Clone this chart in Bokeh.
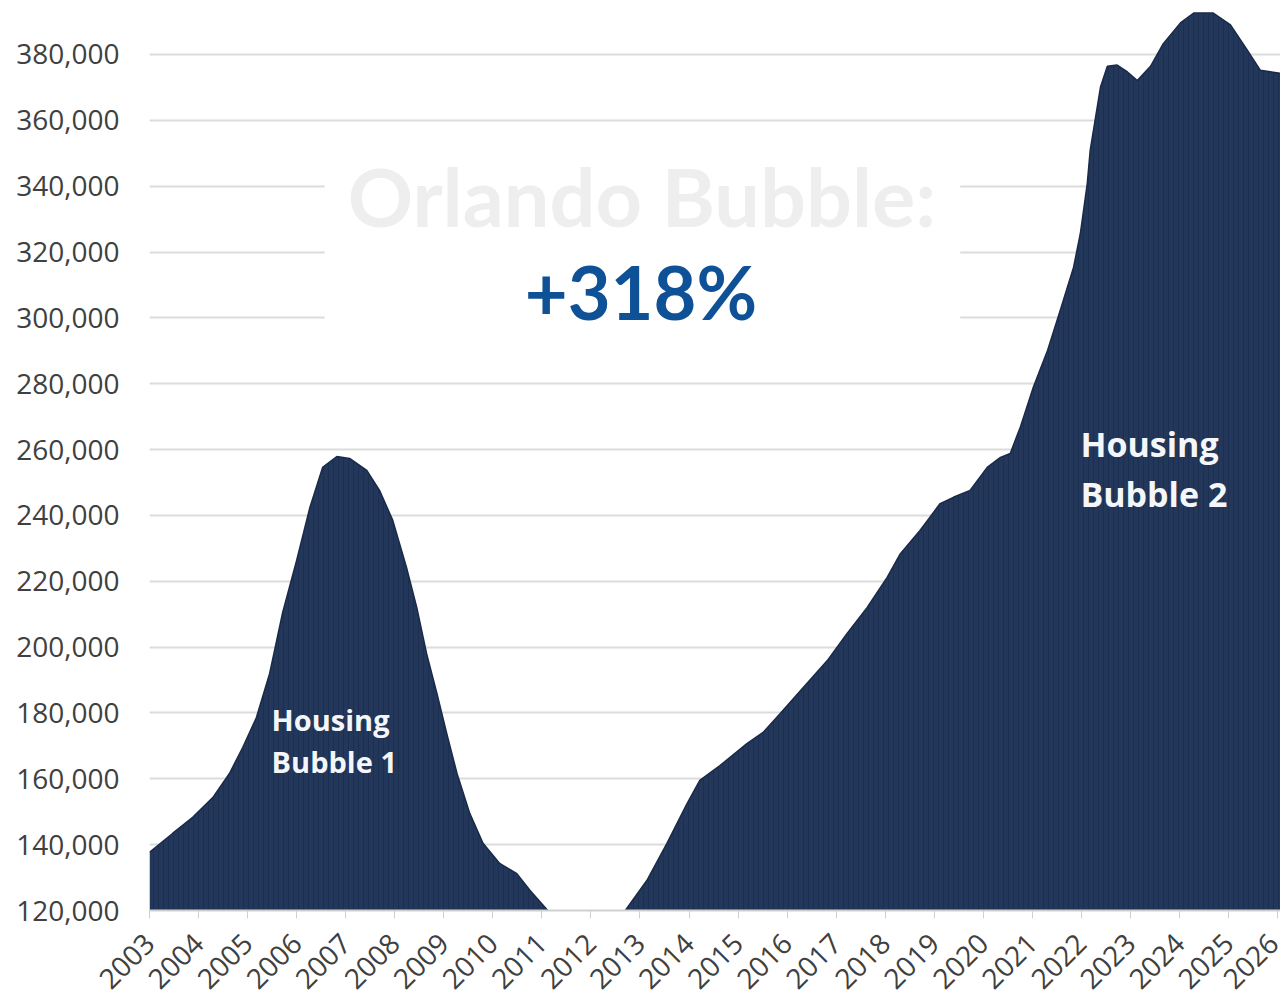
import math
from bokeh.plotting import figure
from bokeh.models import (Range1d, FixedTicker, NumeralTickFormatter, Label,
                          BoxAnnotation, BasicTickFormatter)
from bokeh.embed import file_html
from bokeh.resources import INLINE

# ---- data ----
years = [2003.00, 2003.47, 2003.88, 2004.29, 2004.63, 2004.90, 2005.18, 2005.45,
         2005.71, 2006.00, 2006.27, 2006.53, 2006.82, 2007.08, 2007.43, 2007.69,
         2007.96, 2008.24, 2008.45, 2008.65, 2008.86, 2009.06, 2009.27, 2009.53,
         2009.80, 2010.14, 2010.49, 2010.76, 2011.12, 2011.50, 2012.00, 2012.40,
         2012.73, 2013.14, 2013.55, 2013.96, 2014.22, 2014.63, 2015.18, 2015.51,
         2015.86, 2016.33, 2016.82, 2017.22, 2017.63, 2018.04, 2018.31, 2018.71,
         2019.12, 2019.39, 2019.73, 2020.08, 2020.35, 2020.55, 2020.76, 2021.02,
         2021.31, 2021.57, 2021.84, 2021.98, 2022.12, 2022.18, 2022.29, 2022.39,
         2022.53, 2022.73, 2022.94, 2023.14, 2023.41, 2023.67, 2024.02, 2024.29,
         2024.69, 2025.04, 2025.39, 2025.65, 2026.08]
prices = [137700, 143400, 148300, 154300, 161600, 169500, 178600, 192000,
          210200, 226300, 242400, 254600, 257900, 257300, 253700, 247600,
          238500, 224200, 212000, 198000, 185900, 173800, 161600, 149500,
          140400, 134300, 131200, 126100, 120000, 114000, 111000, 114000,
          120600, 129100, 140400, 152500, 159500, 164000, 170700, 174100,
          179800, 187700, 195900, 204100, 212000, 221200, 228400, 235400,
          243600, 245500, 247600, 254600, 257600, 258800, 267000, 278900,
          290100, 302300, 315300, 325700, 340800, 350900, 361000, 370100,
          376400, 376800, 374700, 372100, 376400, 383300, 389600, 392600,
          392600, 389000, 381200, 375200, 374200]

tick_years = list(range(2003, 2027))
y_ticks = list(range(120000, 380001, 20000))

title_line1 = "Orlando Bubble:"
title_line2 = "+318%"
bubble1 = ["Housing", "Bubble 1"]
bubble2 = ["Housing", "Bubble 2"]

# ---- figure ----
p = figure(width=1280, height=1000, output_backend="svg", toolbar_location=None,
           x_range=Range1d(2003.0, 2026.06), y_range=Range1d(120000, 396400),
           min_border_left=149, min_border_right=0, min_border_top=0,
           min_border_bottom=90)
p.outline_line_color = None
p.background_fill_color = "white"
p.border_fill_color = "white"

# area (with a faint vertical texture like monthly columns)
p.varea(x=years, y1=0, y2=prices, fill_color="#223759",
        hatch_pattern="vertical_line", hatch_color="#18284a",
        hatch_alpha=0.55, hatch_scale=5, hatch_weight=1)
p.line(x=years, y=prices, line_color="#1a2a48", line_width=1.5)

# grid
p.xgrid.visible = False
p.ygrid.ticker = FixedTicker(ticks=y_ticks)
p.ygrid.grid_line_color = "#dcdcdc"
p.ygrid.grid_line_width = 2
p.ygrid.level = "underlay"

# y axis
p.yaxis.ticker = FixedTicker(ticks=y_ticks)
p.yaxis.formatter = NumeralTickFormatter(format="0,0")
p.yaxis.axis_line_color = None
p.yaxis.major_tick_line_color = None
p.yaxis.minor_tick_line_color = None
p.yaxis.major_label_standoff = 24
p.yaxis.major_label_text_font = "Open Sans"
p.yaxis.major_label_text_font_size = "28px"
p.yaxis.major_label_text_color = "#404040"

# x axis
p.xaxis.ticker = FixedTicker(ticks=tick_years)
p.xaxis.formatter = BasicTickFormatter(use_scientific=False)
p.xaxis.axis_line_color = "#d0d0d0"
p.xaxis.axis_line_width = 2
p.xaxis.major_tick_line_color = "#d0d0d0"
p.xaxis.major_tick_out = 8
p.xaxis.major_tick_in = 0
p.xaxis.minor_tick_line_color = None
p.xaxis.major_label_orientation = math.pi / 4
p.xaxis.major_label_standoff = 20
p.xaxis.major_label_text_font = "Open Sans"
p.xaxis.major_label_text_font_size = "28px"
p.xaxis.major_label_text_color = "#404040"

# white box behind the headline
p.add_layout(BoxAnnotation(left=2006.57, right=2019.53, bottom=291000, top=350000,
                           fill_color="white", fill_alpha=1.0, line_color=None))

p.add_layout(Label(x=2013.04, y=337180, text=title_line1, text_align="center",
                   text_baseline="alphabetic", text_font="Lato",
                   text_font_style="bold", text_font_size="81px",
                   text_color="#eeeeee"))
p.add_layout(Label(x=2013.02, y=308010, text=title_line2, text_align="center",
                   text_baseline="alphabetic", text_font="Lato",
                   text_font_style="bold", text_font_size="74px",
                   text_color="#0e5196"))

for txt, yv in zip(bubble1, [178010, 165255]):
    p.add_layout(Label(x=2005.49, y=yv, text=txt, text_align="left",
                       text_baseline="alphabetic", text_font="Open Sans",
                       text_font_style="bold", text_font_size="29px",
                       text_color="#f4f6fa"))
for txt, yv in zip(bubble2, [261844, 246657]):
    p.add_layout(Label(x=2021.98, y=yv, text=txt, text_align="left",
                       text_baseline="alphabetic", text_font="Open Sans",
                       text_font_style="bold", text_font_size="34px",
                       text_color="#f4f6fa"))

open("out.html", "w").write(file_html(p, INLINE))
